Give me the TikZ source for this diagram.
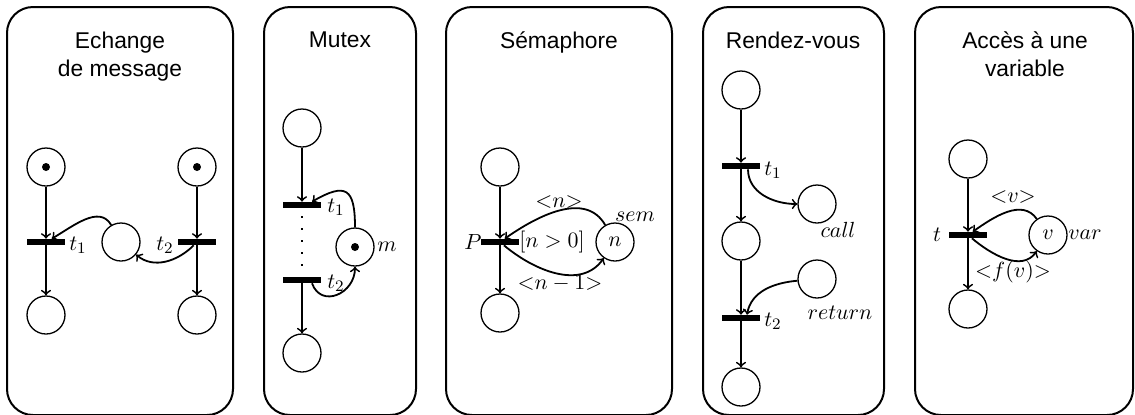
\documentclass[tikz,border=0pt]{standalone}
\usepackage{fontspec}
\setsansfont{Liberation Sans}
\begin{document}
\begin{tikzpicture}[x=0.5pt,y=-0.5pt,
  place/.style={circle,draw,line width=0.65pt,minimum size=19pt,inner sep=0pt,
    font=\fontsize{10.95}{13}\selectfont},
  trans/.style={rectangle,fill=black,minimum width=19pt,minimum height=2.9pt,inner sep=0pt},
  arc/.style={->,line width=0.9pt},
  panel/.style={line width=1pt,rounded corners=13pt},
  title/.style={anchor=north,inner sep=0pt,align=center,
    font=\sffamily\fontsize{11.4}{14}\selectfont},
  lab/.style={inner sep=0pt,font=\fontsize{10.95}{13}\selectfont},
  dots/.style={line width=0.8pt,dash pattern=on 0.8pt off 5.2pt,shorten >=4pt,shorten <=4pt}
]
\useasboundingbox (0,0) rectangle (1135,414);
\clip (0,0) rectangle (1135,414);

% panel frames
\draw[panel] (7,7) rectangle (233,415);
\draw[panel] (264,7) rectangle (416,415);
\draw[panel] (446,7) rectangle (672,415);
\draw[panel] (703,7) rectangle (884,415);
\draw[panel] (915,7) rectangle (1133,415);

% --- Echange de message ---
\node[title] at (120,31.5) {Echange\\de message};
\node[place] (e1) at (46,167) {};
\node[place] (e2) at (197,167) {};
\node[trans] (et1) at (46,242) {};
\node[trans] (et2) at (197,242) {};
\node[place] (em) at (121,242) {};
\node[place] (e3) at (46,315) {};
\node[place] (e4) at (197,315) {};
\fill (e1) circle (2pt);
\fill (e2) circle (2pt);
\draw[arc] (e1) -- (et1);
\draw[arc] (et1) -- (e3);
\draw[arc] (e2) -- (et2);
\draw[arc] (et2) -- (e4);
\draw[arc] (em) to[out=120,in=30] (et1);
\draw[arc] (et2) to[out=-135,in=-40] (em);
\node[lab] (et1l) at (78,245) {$t_1$};
\node[lab] (et2l) at (165,245) {$t_2$};

% --- Mutex ---
\node[title] at (340,31.5) {Mutex};
\node[place] (mu1) at (302,128) {};
\node[trans] (mt1) at (302,205) {};
\node[trans] (mt2) at (302,280) {};
\node[place] (mm) at (355,247) {};
\node[place] (mu2) at (302,353) {};
\fill (mm) circle (2pt);
\draw[arc] (mu1) -- (mt1);
\draw[arc] (mt2) -- (mu2);
\draw[dots] (mt1) -- (mt2);
\draw[arc] (mm) to[out=90,in=30,looseness=2] ([xshift=5pt]mt1.north);
\draw[arc] ([xshift=5pt]mt2.south) to[out=-70,in=-90,looseness=1.5] (mm);
\node[lab] (mt1l) at (336,207) {$t_1$};
\node[lab] (mt2l) at (336,283) {$t_2$};
\node[lab] (mml) at (387,247) {$m$};

% --- Semaphore ---
\node[title] at (559,31.5) {Sémaphore};
\node[place] (s1) at (500,167) {};
\node[trans] (sp) at (500,242) {};
\node[place] (s2) at (500,313) {};
\node[place] (ss) at (615,242) {$n$};
\draw[arc] (s1) -- (sp);
\draw[arc] (sp) -- (s2);
\draw[arc] (ss) to[out=120,in=35] (sp);
\draw[arc] (sp) to[out=-40,in=-125] (ss);
\node[lab] (spl) at (473,242) {$P$};
\node[lab] (sg) at (552,242) {$[n>0]$};
\node[lab] (sin) at (559,202) {${<}n{>}$};
\node[lab] (sout) at (560,283) {${<}n-1{>}$};
\node[lab] (ssl) at (635,217) {$sem$};

% --- Rendez-vous ---
\node[title] at (793,31.5) {Rendez-vous};
\node[place] (r1) at (741,90) {};
\node[trans] (rt1) at (741,166) {};
\node[place] (r2) at (741,241) {};
\node[trans] (rt2) at (741,318) {};
\node[place] (r3) at (741,387) {};
\node[place] (rc) at (817,204) {};
\node[place] (rr) at (817,279) {};
\draw[arc] (r1) -- (rt1);
\draw[arc] (rt1) -- (r2);
\draw[arc] (r2) -- (rt2);
\draw[arc] (rt2) -- (r3);
\draw[arc] ([xshift=3.5pt]rt1.south) to[out=-90,in=180] (rc);
\draw[arc] (rr) to[out=185,in=80] ([xshift=3pt]rt2.north);
\node[lab] (rt1l) at (773,170) {$t_1$};
\node[lab] (rt2l) at (773,321) {$t_2$};
\node[lab] (rcl) at (838,230) {$call$};
\node[lab] (rrl) at (840,313) {$return$};

% --- Acces a une variable ---
\node[title] at (1025,31.5) {Accès à une\\variable};
\node[place] (a1) at (968,159) {};
\node[trans] (at) at (968,235) {};
\node[place] (a2) at (968,309) {};
\node[place] (av) at (1048,235) {$v$};
\draw[arc] (a1) -- (at);
\draw[arc] (at) -- (a2);
\draw[arc] (av) to[out=125,in=35] (at);
\draw[arc] (at) to[out=-40,in=-125] (av);
\node[lab] (atl) at (937,235) {$t$};
\node[lab] (avl) at (1085,235) {$var$};
\node[lab] (ain) at (1013,197) {${<}v{>}$};
\node[lab] (aout) at (1013,272) {${<}f(v){>}$};
\end{tikzpicture}
\end{document}
